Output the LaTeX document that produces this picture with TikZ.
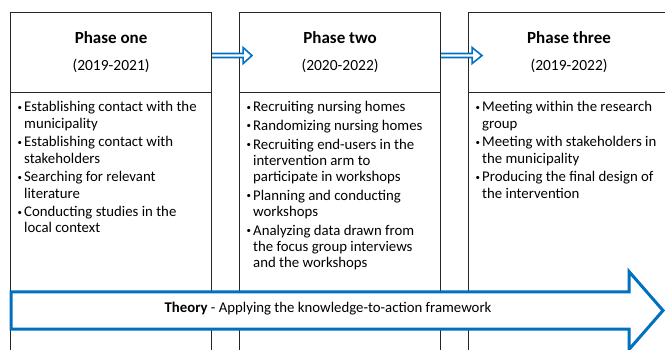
\documentclass[tikz,border=0pt]{standalone}
\usepackage{fontspec}
\setmainfont{Carlito}
\usetikzlibrary{calc}
\definecolor{arrowblue}{RGB}{0,112,192}
\newcommand\bitem{\makebox[7pt][l]{\hspace*{0.5pt}\raisebox{1.6pt}{\scalebox{0.6}{•}}}}
\newcommand\bcont{\hspace*{7pt}}
\begin{document}
\begin{tikzpicture}[x=1pt,y=-1pt,
  boxline/.style={draw=black!85, line width=1.1pt},
  header/.style={boxline, minimum width=201pt, minimum height=80pt, anchor=north west, inner sep=0pt},
  bodybox/.style={boxline, minimum width=201pt, minimum height=280pt, anchor=north west, inner sep=0pt},
  titletext/.style={font=\fontsize{17}{20}\selectfont\bfseries, inner sep=0pt},
  yeartext/.style={font=\fontsize{15.5}{18}\selectfont, inner sep=0pt},
  listtext/.style={font=\fontsize{14.8}{16.3}\selectfont, align=left, anchor=north west, inner sep=0pt},
  blockarrow/.style={draw=arrowblue, fill=white, line width=1.6pt, line join=miter},
  bigarrow/.style={draw=arrowblue, fill=white, line width=3pt, line join=miter}]
\useasboundingbox (0,0) rectangle (665,350);
\clip (0,0) rectangle (665,350);

% boxes
\node[bodybox] (b1) at (10,92) {};
\node[bodybox] (b2) at (239,92) {};
\node[bodybox] (b3) at (468,92) {};
\node[header] (h1) at (10,12) {};
\node[header] (h2) at (239,12) {};
\node[header] (h3) at (468,12) {};

% header texts
\node[titletext] (t1) at ($(h1.north)+(0,26)$) {Phase one};
\node[yeartext]  (y1) at ($(h1.north)+(0,54)$) {(2019-2021)};
\node[titletext] (t2) at ($(h2.north)+(0,26)$) {Phase two};
\node[yeartext]  (y2) at ($(h2.north)+(0,54)$) {(2020-2022)};
\node[titletext] (t3) at ($(h3.north)+(0,26)$) {Phase three};
\node[yeartext]  (y3) at ($(h3.north)+(0,54)$) {(2019-2022)};

% lists
\node[listtext] (l1) at ($(b1.north west)+(7,9.5)$) {%
\bitem Establishing contact with the\\\bcont municipality\\[2.3pt]
\bitem Establishing contact with\\\bcont stakeholders\\[2.3pt]
\bitem Searching for relevant\\\bcont literature\\[2.3pt]
\bitem Conducting studies in the\\\bcont local context};
\node[listtext] (l2) at ($(b2.north west)+(7,9.5)$) {%
\bitem Recruiting nursing homes\\[2.3pt]
\bitem Randomizing nursing homes\\[2.3pt]
\bitem Recruiting end-users in the\\\bcont intervention arm to\\\bcont participate in workshops\\[2.3pt]
\bitem Planning and conducting\\\bcont workshops\\[2.3pt]
\bitem Analyzing data drawn from\\\bcont the focus group interviews\\\bcont and the workshops};
\node[listtext] (l3) at ($(b3.north west)+(7,9.5)$) {%
\bitem Meeting within the research\\\bcont group\\[2.3pt]
\bitem Meeting with stakeholders in\\\bcont the municipality\\[2.3pt]
\bitem Producing the final design of\\\bcont the intervention};

% small block arrows between headers
\draw[blockarrow] ($(h1.east)+(0,1)$) -- ($(h1.east)+(31,1)$) -- ($(h1.east)+(31,-5)$)
  -- ($(h2.west)+(13,3)$) -- ($(h1.east)+(31,11)$) -- ($(h1.east)+(31,5)$) -- ($(h1.east)+(0,5)$);
\draw[blockarrow] ($(h2.east)+(0,1)$) -- ($(h2.east)+(31,1)$) -- ($(h2.east)+(31,-5)$)
  -- ($(h3.west)+(14,3)$) -- ($(h2.east)+(31,11)$) -- ($(h2.east)+(31,5)$) -- ($(h2.east)+(0,5)$);

% big theory arrow
\coordinate (tail) at (11,310.5);
\coordinate (tip) at (663,310.5);
\draw[bigarrow] ($(tail)+(0,-18.5)$) -- ($(tip)+(-34,-18.5)$) -- ($(tip)+(-34,-39)$) -- (tip)
  -- ($(tip)+(-34,39)$) -- ($(tip)+(-34,18.5)$) -- ($(tail)+(0,18.5)$) -- cycle;
\node[font=\fontsize{14.8}{17}\selectfont, inner sep=0pt] (theory) at (328,308.5) {\textbf{Theory} - Applying the knowledge-to-action framework};
\end{tikzpicture}
\end{document}
